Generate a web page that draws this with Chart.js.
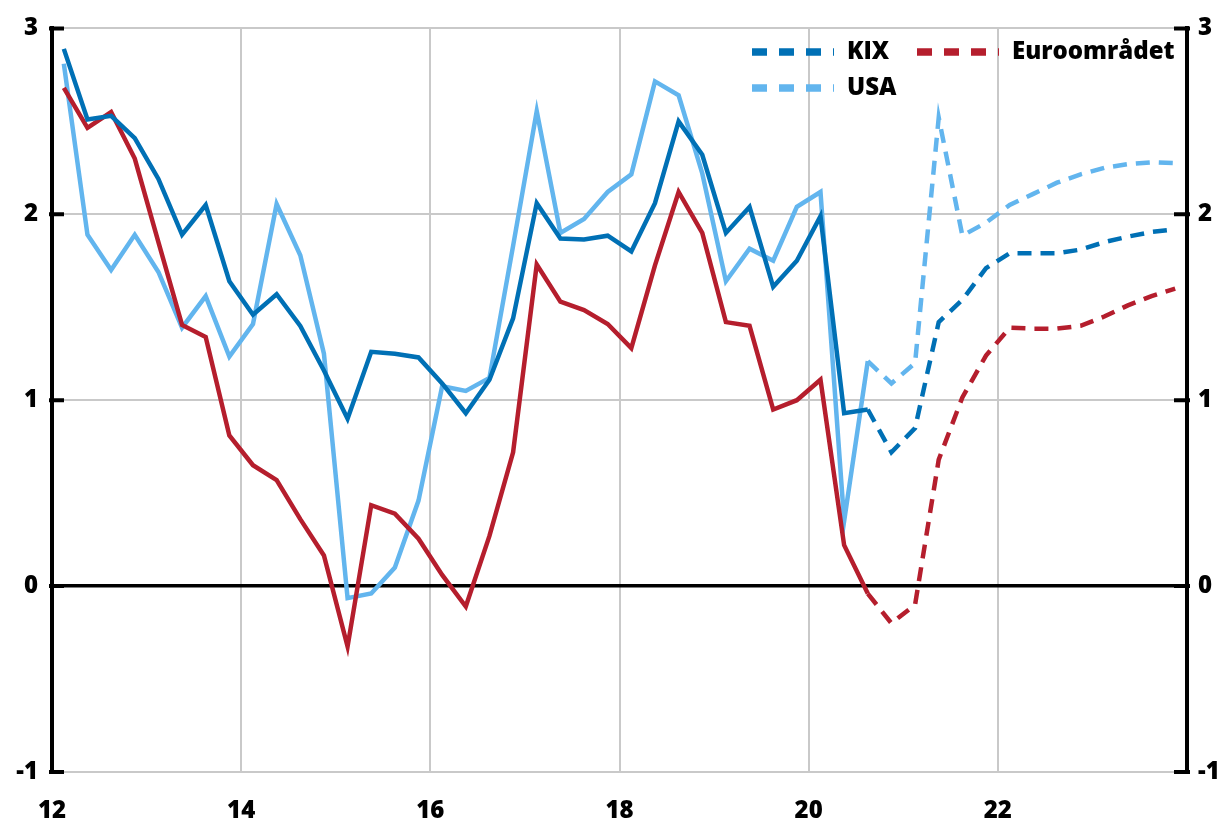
<!DOCTYPE html>
<html lang="sv">
<head>
  <meta charset="UTF-8">
  <title>Inflation KIX, USA och Euroområdet</title>
  <script src="https://cdn.jsdelivr.net/npm/chart.js@4.4.0/dist/chart.umd.min.js"></script>
  <style>
    html, body { margin: 0; padding: 0; background: #fff; }
    #wrap { width: 1224px; height: 825px; }
  </style>
</head>
<body>
  <div id="wrap"><canvas id="chart" width="1224" height="825"></canvas></div>

  <script>
    // Quarterly series, 2012 Q1 - 2023 Q4 (percent)
    const kix = [2.89, 2.51, 2.53, 2.41, 2.19, 1.89, 2.05, 1.64, 1.46, 1.57,
                 1.40, 1.16, 0.90, 1.26, 1.25, 1.23, 1.09, 0.93, 1.11, 1.44,
                 2.06, 1.87, 1.865, 1.885, 1.80, 2.06, 2.50, 2.32, 1.90, 2.04,
                 1.61, 1.75, 1.99, 0.93, 0.95, 0.72, 0.85, 1.42, 1.54, 1.71,
                 1.79, 1.79, 1.79, 1.81, 1.85, 1.88, 1.905, 1.92];
    const usa = [2.81, 1.89, 1.70, 1.89, 1.69, 1.39, 1.56, 1.235, 1.41, 2.055,
                 1.78, 1.25, -0.065, -0.04, 0.10, 0.46, 1.075, 1.05, 1.12, 1.83,
                 2.555, 1.90, 1.975, 2.12, 2.215, 2.715, 2.64, 2.22, 1.64, 1.815,
                 1.75, 2.04, 2.12, 0.35, 1.21, 1.09, 1.20, 2.52, 1.885, 1.955,
                 2.05, 2.11, 2.17, 2.215, 2.25, 2.27, 2.28, 2.275];
    const euro = [2.68, 2.465, 2.55, 2.30, 1.85, 1.405, 1.34, 0.81, 0.65, 0.57,
                  0.36, 0.165, -0.325, 0.435, 0.39, 0.255, 0.06, -0.11, 0.27, 0.72,
                  1.73, 1.53, 1.485, 1.41, 1.28, 1.725, 2.12, 1.90, 1.42, 1.40,
                  0.95, 1.00, 1.11, 0.22, -0.04, -0.20, -0.10, 0.68, 1.015, 1.24,
                  1.39, 1.385, 1.385, 1.40, 1.45, 1.51, 1.56, 1.60];

    const firstYear = 12;          // two-digit year of the first quarter
    const lastOutcome = 34;        // index of the last outcome quarter, dashed after
    const xTicks = [12, 14, 16, 18, 20, 22];
    const yTicks = [-1, 0, 1, 2, 3];

    const names = ['KIX', 'USA', 'Euroområdet'];
    const colors = ['#0070b5', '#62b5ee', '#b51e2d'];

    // quarter midpoint on a year axis
    const toPoints = arr => arr.map((v, i) => ({ x: firstYear + (i + 0.5) / 4, y: v }));

    const fontFamily = "'Open Sans', 'DejaVu Sans', sans-serif";
    const tickFont = { family: fontFamily, size: 24, weight: 800 };
    const gridGrey = '#c9c9c9';

    function lineSet(label, data, color) {
      return {
        label: label,
        data: toPoints(data),
        borderColor: color,
        backgroundColor: color,
        borderWidth: 4.5,
        pointRadius: 0,
        tension: 0,
        fill: false,
        segment: {
          borderDash: ctx => ctx.p0DataIndex >= lastOutcome ? [14, 9] : undefined
        }
      };
    }

    // Inward tick marks on both y axes
    const axisTicks = {
      id: 'axisTicks',
      afterDatasetsDraw(chart) {
        const { ctx, chartArea } = chart;
        const y = chart.scales.y;
        ctx.save();
        ctx.strokeStyle = '#000';
        ctx.lineWidth = 4;
        yTicks.forEach(v => {
          const py = y.getPixelForValue(v);
          ctx.beginPath();
          ctx.moveTo(chartArea.left - 3, py);
          ctx.lineTo(chartArea.left + 12, py);
          ctx.moveTo(chartArea.right - 13, py);
          ctx.lineTo(chartArea.right + 3, py);
          ctx.stroke();
        });
        ctx.restore();
      }
    };

    // Two-column legend in the upper right corner of the plot
    const cornerLegend = {
      id: 'cornerLegend',
      afterDraw(chart) {
        const { ctx } = chart;
        const spots = [
          { label: 'KIX', x: 752, y: 52 },
          { label: 'USA', x: 752, y: 88 },
          { label: 'Euroområdet', x: 917, y: 52 }
        ];
        ctx.save();
        spots.forEach(s => {
          const ds = chart.data.datasets.find(d => d.label === s.label);
          ctx.strokeStyle = ds.borderColor;
          ctx.lineWidth = 7.5;
          ctx.setLineDash([15, 12]);
          ctx.beginPath();
          ctx.moveTo(s.x, s.y);
          ctx.lineTo(s.x + 82, s.y);
          ctx.stroke();
          ctx.setLineDash([]);
          ctx.fillStyle = '#000';
          ctx.font = '800 24px ' + fontFamily;
          ctx.textBaseline = 'middle';
          ctx.fillText(ds.label, s.x + 95, s.y);
        });
        ctx.restore();
      }
    };

    new Chart(document.getElementById('chart'), {
      type: 'line',
      data: {
        datasets: [
          lineSet(names[0], kix, colors[0]),
          lineSet(names[2], euro, colors[2]),
          lineSet(names[1], usa, colors[1])
        ]
      },
      options: {
        responsive: false,
        animation: false,
        layout: { padding: { top: 25, left: 0, right: 0, bottom: 0 } },
        plugins: {
          legend: { display: false },
          tooltip: { enabled: false }
        },
        scales: {
          x: {
            type: 'linear',
            min: 12,
            max: 24,
            afterBuildTicks: s => { s.ticks = [12, 14, 16, 18, 20, 22, 24].map(v => ({ value: v })); },
            afterFit: s => { s.height = 53; },
            ticks: {
              callback: v => xTicks.includes(v) ? String(v) : '',
              color: '#000',
              font: tickFont,
              padding: 25,
              maxRotation: 0,
              autoSkip: false
            },
            grid: {
              color: c => (c.tick && (c.tick.value === 12 || c.tick.value === 24)) ? 'rgba(0,0,0,0)' : gridGrey,
              lineWidth: 2,
              drawTicks: false
            },
            border: { display: false }
          },
          y: {
            position: 'left',
            min: -1,
            max: 3,
            afterBuildTicks: s => { s.ticks = yTicks.map(v => ({ value: v })); },
            afterFit: s => { s.width = 52; },
            ticks: { color: '#000', font: tickFont, padding: 14 },
            grid: {
              color: c => c.tick && c.tick.value === 0 ? '#000' : gridGrey,
              lineWidth: c => c.tick && c.tick.value === 0 ? 3.5 : 2,
              drawTicks: false
            },
            border: { color: '#000', width: 4 }
          },
          y2: {
            position: 'right',
            min: -1,
            max: 3,
            afterBuildTicks: s => { s.ticks = yTicks.map(v => ({ value: v })); },
            afterFit: s => { s.width = 37; },
            ticks: { color: '#000', font: tickFont, padding: 11 },
            grid: { drawOnChartArea: false, drawTicks: false },
            border: { color: '#000', width: 4 }
          }
        }
      },
      plugins: [axisTicks, cornerLegend]
    });
  </script>
</body>
</html>
